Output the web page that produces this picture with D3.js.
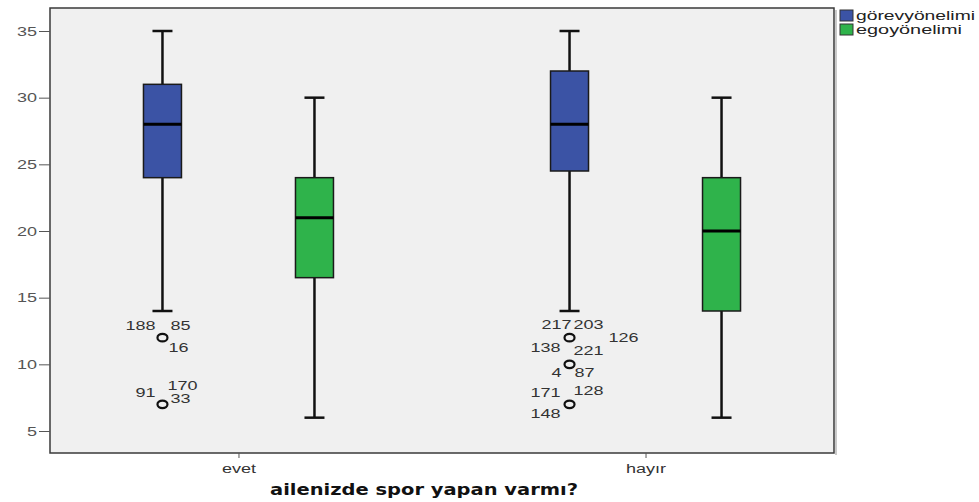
<!DOCTYPE html>
<html>
<head>
<meta charset="utf-8">
<script src="https://cdn.jsdelivr.net/npm/d3@7"></script>
<style>
  html, body { margin: 0; padding: 0; background: #ffffff; }
  svg { display: block; }
</style>
</head>
<body>
<svg id="chart" width="979" height="502"></svg>
<script>
// ---------------- data ----------------
const groups = ["evet", "hayır"];
const series = ["görevyönelimi", "egoyönelimi"];
const xTitle = "ailenizde spor yapan varmı?";
const yTicks = [5, 10, 15, 20, 25, 30, 35];

// per series, per group
const whiskerLow  = { "görevyönelimi": [14, 14],   "egoyönelimi": [6, 6] };
const q1          = { "görevyönelimi": [24, 24.5], "egoyönelimi": [16.5, 14] };
const median      = { "görevyönelimi": [28, 28],   "egoyönelimi": [21, 20] };
const q3          = { "görevyönelimi": [31, 32],   "egoyönelimi": [24, 24] };
const whiskerHigh = { "görevyönelimi": [35, 35],   "egoyönelimi": [30, 30] };

// outliers: group, series, value, case ids
const outlierGroup  = ["evet", "evet", "hayır", "hayır", "hayır"];
const outlierSeries = ["görevyönelimi", "görevyönelimi", "görevyönelimi", "görevyönelimi", "görevyönelimi"];
const outlierValue  = [12, 7, 12, 10, 7];
const outlierIds    = [["188", "85", "16"], ["91", "170", "33"], ["217", "203", "126"], ["138", "221", "4", "87"], ["171", "128", "148"]];

// ---------------- layout / style ----------------
const colors = { "görevyönelimi": "#3b53a5", "egoyönelimi": "#2fb34b" };
const plot = { left: 50, right: 834, top: 8, bottom: 453 };
// label offsets (dx from circle to left edge of text, dy to baseline)
const labelOffsets = [
  [[-37, -8], [8, -8], [6, 14]],
  [[-27, -7], [5, -14], [8, -1]],
  [[-28, -9], [4, -9], [39, 4]],
  [[-39, -12], [4, -9], [-18, 13], [5, 13]],
  [[-39, -7], [4, -9], [-39, 14]]
];
const STRETCH = 1.5;

const svg = d3.select("#chart");

const x = d3.scalePoint().domain(groups).range([plot.left, plot.right]).padding(0.463);
const sub = d3.scalePoint().domain(series).range([-76, 76]);
const y = d3.scaleLinear().domain([3.35, 36.725]).range([plot.bottom, plot.top]);

function stretch(sel, k) {
  sel.each(function () {
    const w = this.getComputedTextLength();
    d3.select(this).attr("textLength", w * (k || STRETCH)).attr("lengthAdjust", "spacingAndGlyphs");
  });
  return sel;
}

// plot background
svg.append("rect")
  .attr("x", plot.left).attr("y", plot.top)
  .attr("width", plot.right - plot.left).attr("height", plot.bottom - plot.top)
  .attr("fill", "#f0f0f0").attr("stroke", "#3a3a3a").attr("stroke-width", 1.5);
svg.append("line")
  .attr("x1", plot.right + 2).attr("x2", plot.right + 2)
  .attr("y1", plot.top + 2).attr("y2", plot.bottom + 2)
  .attr("stroke", "#b8b8b8").attr("stroke-width", 1.5);

// y axis
const yAxis = svg.append("g").attr("transform", `translate(${plot.left},0)`)
  .call(d3.axisLeft(y).tickValues(yTicks).tickSize(11).tickPadding(2).tickFormat(d3.format("d")));
yAxis.select(".domain").remove();
yAxis.selectAll(".tick line").attr("stroke", "#555").attr("stroke-width", 1);
yAxis.selectAll(".tick text")
  .attr("font-family", "'Liberation Sans', Arial, sans-serif").attr("font-size", 12)
  .attr("fill", "#555").attr("dy", "0.35em");
stretch(yAxis.selectAll(".tick text"));

// x axis
const xAxis = svg.append("g").attr("transform", `translate(0,${plot.bottom})`)
  .call(d3.axisBottom(x).tickSize(5).tickPadding(6));
xAxis.select(".domain").remove();
xAxis.selectAll(".tick line").attr("stroke", "#555");
xAxis.selectAll(".tick text")
  .attr("font-family", "'Liberation Sans', Arial, sans-serif").attr("font-size", 12)
  .attr("fill", "#333");
stretch(xAxis.selectAll(".tick text"));

// x title
const title = svg.append("text")
  .attr("x", 424).attr("y", 495).attr("text-anchor", "middle")
  .attr("font-family", "'DejaVu Sans', sans-serif").attr("font-weight", "bold")
  .attr("font-size", 15).attr("fill", "#111")
  .text(xTitle);
title.attr("textLength", 308).attr("lengthAdjust", "spacingAndGlyphs");

// boxes
const boxW = 38, capW = 20;
series.forEach(s => {
  groups.forEach((g, i) => {
    const cx = x(g) + sub(s);
    const gg = svg.append("g");
    // whiskers
    gg.append("line").attr("x1", cx).attr("x2", cx)
      .attr("y1", y(whiskerLow[s][i])).attr("y2", y(q1[s][i]))
      .attr("stroke", "#111").attr("stroke-width", 2.5);
    gg.append("line").attr("x1", cx).attr("x2", cx)
      .attr("y1", y(q3[s][i])).attr("y2", y(whiskerHigh[s][i]))
      .attr("stroke", "#111").attr("stroke-width", 2.5);
    [whiskerLow[s][i], whiskerHigh[s][i]].forEach(v => {
      gg.append("line").attr("x1", cx - capW / 2).attr("x2", cx + capW / 2)
        .attr("y1", y(v)).attr("y2", y(v))
        .attr("stroke", "#111").attr("stroke-width", 2.5);
    });
    gg.append("rect")
      .attr("x", cx - boxW / 2).attr("width", boxW)
      .attr("y", y(q3[s][i])).attr("height", y(q1[s][i]) - y(q3[s][i]))
      .attr("fill", colors[s]).attr("stroke", "#1a1a1a").attr("stroke-width", 1.5);
    gg.append("line").attr("x1", cx - boxW / 2).attr("x2", cx + boxW / 2)
      .attr("y1", y(median[s][i])).attr("y2", y(median[s][i]))
      .attr("stroke", "#000").attr("stroke-width", 3);
  });
});

// outliers
outlierValue.forEach((v, k) => {
  const cx = x(outlierGroup[k]) + sub(outlierSeries[k]);
  const cy = y(v);
  svg.append("ellipse").attr("cx", cx).attr("cy", cy).attr("rx", 5).attr("ry", 3.8)
    .attr("fill", "none").attr("stroke", "#111").attr("stroke-width", 2.2);
  outlierIds[k].forEach((id, j) => {
    const off = labelOffsets[k][j];
    const t = svg.append("text")
      .attr("x", cx + off[0]).attr("y", cy + off[1])
      .attr("font-family", "'Liberation Sans', Arial, sans-serif").attr("font-size", 12)
      .attr("fill", "#333").text(id);
    stretch(t);
  });
});

// legend
series.forEach((s, i) => {
  const ly = 10 + i * 14;
  svg.append("rect").attr("x", 840).attr("y", ly).attr("width", 13).attr("height", 11)
    .attr("fill", colors[s]).attr("stroke", "#333").attr("stroke-width", 1);
  const t = svg.append("text").attr("x", 856).attr("y", ly + 9.5)
    .attr("font-family", "'Liberation Sans', Arial, sans-serif").attr("font-size", 12)
    .attr("fill", "#222").text(s);
  t.attr("textLength", i === 0 ? 119 : 106).attr("lengthAdjust", "spacingAndGlyphs");
});
</script>
</body>
</html>
